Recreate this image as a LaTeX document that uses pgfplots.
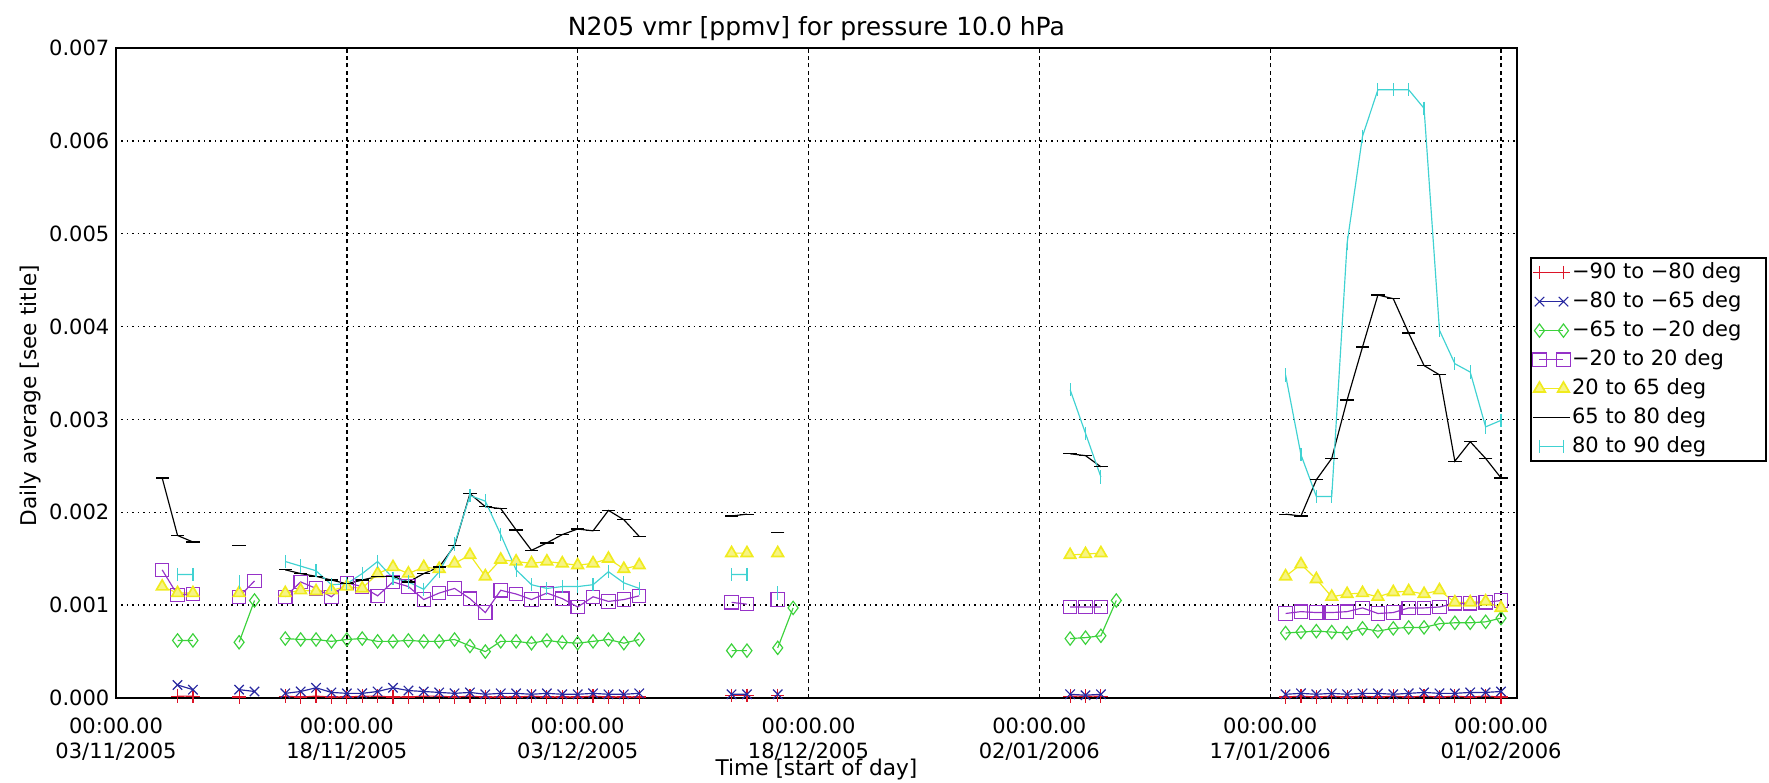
\documentclass[border=0pt]{standalone}
\usepackage{fontspec}
\setmainfont{DejaVu Sans}
\usepackage{pgfplots}
\pgfplotsset{compat=1.18}

\definecolor{cred}{RGB}{220,20,40}
\definecolor{cblue}{RGB}{40,40,160}
\definecolor{cgreen}{RGB}{60,210,60}
\definecolor{cpurple}{RGB}{150,50,200}
\definecolor{cyellow}{RGB}{240,235,30}
\definecolor{ccyan}{RGB}{64,210,210}

\newcommand{\fs}{\fontsize{6.3}{7.5}\selectfont}
\newcommand{\lb}[1]{\makebox[57pt][l]{#1}}

\begin{document}
\begin{tikzpicture}
\begin{axis}[
  at={(0,0)}, anchor=south west,
  scale only axis, width=420.3pt, height=195pt,
  xmin=0, xmax=91.04, ymin=0, ymax=0.007,
  unbounded coords=jump,
  xtick={0,15,30,45,60,75,90},
  xticklabels={{00:00.00\\03/11/2005},{00:00.00\\18/11/2005},{00:00.00\\03/12/2005},
    {00:00.00\\18/12/2005},{00:00.00\\02/01/2006},{00:00.00\\17/01/2006},{00:00.00\\01/02/2006}},
  xticklabel style={align=center, font=\fs, inner sep=0pt, yshift=-5.8pt},
  ytick={0,0.001,0.002,0.003,0.004,0.005,0.006,0.007},
  scaled y ticks=false,
  yticklabel style={/pgf/number format/.cd, fixed, fixed zerofill, precision=3,
    /tikz/.cd, font=\fs, inner sep=0pt, xshift=-1.8pt},
  /pgf/number format/assume math mode=true,
  grid=major,
  major x grid style={black, line width=0.4pt, dash pattern=on 1.2pt off 1pt},
  major y grid style={black, line width=0.4pt, dash pattern=on 0.45pt off 1.2pt},
  major tick length=0pt,
  axis line style={line width=0.6pt},
  title={N205 vmr [ppmv] for pressure 10.0 hPa},
  every axis title/.style={at={(0.5,1)}, anchor=center, yshift=5.7pt, font=\fontsize{7.5}{9}\selectfont},
  xlabel={Time [start of day]},
  xlabel style={at={(axis description cs:0.5,-0.1108)}, anchor=center, font=\fontsize{6.5}{7.5}\selectfont},
  ylabel={Daily average [see title]},
  ylabel style={at={(axis description cs:-0.0607,0.465)}, anchor=center, font=\fontsize{6.5}{7.5}\selectfont},
  every axis plot/.append style={line width=0.35pt, mark size=2pt},
  legend image code/.code={\draw[mark repeat=2,mark phase=1,#1] plot coordinates {(0pt,0pt) (3.6pt,0pt) (7.2pt,0pt)};},
  legend cell align=left,
  legend style={at={(1.1784,0.678)}, anchor=north east, draw=black, line width=0.5pt,
    inner sep=0.6pt, font=\fontsize{6.3}{7.5}\selectfont, row sep=1.2pt,
    nodes={inner sep=0.6pt, text height=4.8pt, text depth=1.5pt}},
]

% -90 to -80 deg
\addplot[cred, mark=+] coordinates {
 (4,0.02e-3) (5,0.02e-3) (6,nan) (8,0.01e-3) (10,nan)
 (11,0.02e-3) (12,0.01e-3) (13,0.02e-3) (14,0.01e-3) (15,0.01e-3) (16,0.02e-3) (17,0.02e-3) (18,0.01e-3)
 (19,0.01e-3) (20,0.02e-3) (21,0.02e-3) (22,0.01e-3) (23,0.02e-3) (24,0.01e-3) (25,0.01e-3) (26,0.01e-3)
 (27,0.02e-3) (28,0.01e-3) (29,0.01e-3) (30,0.01e-3) (31,0.02e-3) (32,0.01e-3) (33,0.01e-3) (34,0.01e-3)
 (35,nan) (40,0.03e-3) (41,0.03e-3) (42,nan) (43,0.03e-3) (44,nan)
 (62,0.02e-3) (63,0.02e-3) (64,0.02e-3) (65,nan)
 (76,0.01e-3) (77,0.02e-3) (78,0.01e-3) (79,0.02e-3) (80,0.01e-3) (81,0.02e-3) (82,0.01e-3) (83,0.02e-3)
 (84,0.01e-3) (85,0.02e-3) (86,0.01e-3) (87,0.02e-3) (88,0.01e-3) (89,0.02e-3) (90,0.01e-3)
};
\addlegendentry{\lb{−90 to −80 deg}}

% -80 to -65 deg
\addplot[cblue, mark=x] coordinates {
 (4,0.14e-3) (5,0.09e-3) (6,nan) (8,0.09e-3) (9,0.07e-3) (10,nan)
 (11,0.05e-3) (12,0.07e-3) (13,0.11e-3) (14,0.06e-3) (15,0.05e-3) (16,0.05e-3) (17,0.07e-3) (18,0.11e-3)
 (19,0.08e-3) (20,0.07e-3) (21,0.06e-3) (22,0.05e-3) (23,0.06e-3) (24,0.04e-3) (25,0.05e-3) (26,0.05e-3)
 (27,0.04e-3) (28,0.05e-3) (29,0.04e-3) (30,0.04e-3) (31,0.05e-3) (32,0.04e-3) (33,0.04e-3) (34,0.05e-3)
 (35,nan) (40,0.04e-3) (41,0.04e-3) (42,nan) (43,0.04e-3) (44,nan)
 (62,0.04e-3) (63,0.03e-3) (64,0.04e-3) (65,nan)
 (76,0.04e-3) (77,0.05e-3) (78,0.04e-3) (79,0.05e-3) (80,0.04e-3) (81,0.05e-3) (82,0.05e-3) (83,0.04e-3)
 (84,0.05e-3) (85,0.06e-3) (86,0.05e-3) (87,0.05e-3) (88,0.06e-3) (89,0.06e-3) (90,0.07e-3)
};
\addlegendentry{\lb{−80 to −65 deg}}

% -65 to -20 deg
\addplot[cgreen, mark=diamond] coordinates {
 (4,0.62e-3) (5,0.62e-3) (6,nan) (8,0.60e-3) (9,1.05e-3) (10,nan)
 (11,0.64e-3) (12,0.63e-3) (13,0.63e-3) (14,0.61e-3) (15,0.63e-3) (16,0.64e-3) (17,0.61e-3) (18,0.61e-3)
 (19,0.62e-3) (20,0.61e-3) (21,0.61e-3) (22,0.63e-3) (23,0.56e-3) (24,0.50e-3) (25,0.61e-3) (26,0.61e-3)
 (27,0.59e-3) (28,0.62e-3) (29,0.60e-3) (30,0.59e-3) (31,0.61e-3) (32,0.63e-3) (33,0.59e-3) (34,0.63e-3)
 (35,nan) (40,0.51e-3) (41,0.51e-3) (42,nan) (43,0.54e-3) (44,0.97e-3) (45,nan)
 (62,0.64e-3) (63,0.65e-3) (64,0.67e-3) (65,1.05e-3) (66,nan)
 (76,0.70e-3) (77,0.71e-3) (78,0.72e-3) (79,0.71e-3) (80,0.70e-3) (81,0.75e-3) (82,0.72e-3) (83,0.75e-3)
 (84,0.76e-3) (85,0.76e-3) (86,0.80e-3) (87,0.81e-3) (88,0.81e-3) (89,0.82e-3) (90,0.86e-3)
};
\addlegendentry{\lb{−65 to −20 deg}}

% -20 to 20 deg
\addplot[cpurple, mark=square] coordinates {
 (3,1.38e-3) (4,1.11e-3) (5,1.12e-3) (6,nan) (8,1.09e-3) (9,1.26e-3) (10,nan)
 (11,1.09e-3) (12,1.25e-3) (13,1.18e-3) (14,1.09e-3) (15,1.24e-3) (16,1.20e-3) (17,1.10e-3) (18,1.25e-3)
 (19,1.20e-3) (20,1.06e-3) (21,1.13e-3) (22,1.18e-3) (23,1.07e-3) (24,0.92e-3) (25,1.16e-3) (26,1.12e-3)
 (27,1.06e-3) (28,1.13e-3) (29,1.07e-3) (30,0.98e-3) (31,1.09e-3) (32,1.04e-3) (33,1.06e-3) (34,1.10e-3)
 (35,nan) (40,1.03e-3) (41,1.01e-3) (42,nan) (43,1.06e-3) (44,nan)
 (62,0.98e-3) (63,0.98e-3) (64,0.98e-3) (65,nan)
 (76,0.91e-3) (77,0.93e-3) (78,0.92e-3) (79,0.92e-3) (80,0.93e-3) (81,0.97e-3) (82,0.91e-3) (83,0.92e-3)
 (84,0.97e-3) (85,0.97e-3) (86,0.98e-3) (87,1.02e-3) (88,1.02e-3) (89,1.03e-3) (90,1.05e-3)
};
\addlegendentry{\lb{−20 to 20 deg}}

% 20 to 65 deg
\addplot[cyellow, mark=triangle*, mark options={fill=cyellow!55, line width=0.5pt}] coordinates {
 (3,1.20e-3) (4,1.13e-3) (5,1.13e-3) (6,nan) (8,1.13e-3) (10,nan)
 (11,1.13e-3) (12,1.16e-3) (13,1.15e-3) (14,1.16e-3) (15,1.20e-3) (16,1.18e-3) (17,1.34e-3) (18,1.41e-3)
 (19,1.34e-3) (20,1.41e-3) (21,1.39e-3) (22,1.45e-3) (23,1.54e-3) (24,1.31e-3) (25,1.49e-3) (26,1.47e-3)
 (27,1.45e-3) (28,1.47e-3) (29,1.45e-3) (30,1.43e-3) (31,1.45e-3) (32,1.50e-3) (33,1.39e-3) (34,1.43e-3)
 (35,nan) (40,1.56e-3) (41,1.56e-3) (42,nan) (43,1.56e-3) (44,nan)
 (62,1.54e-3) (63,1.55e-3) (64,1.56e-3) (65,nan)
 (76,1.31e-3) (77,1.44e-3) (78,1.28e-3) (79,1.09e-3) (80,1.12e-3) (81,1.13e-3) (82,1.09e-3) (83,1.14e-3)
 (84,1.15e-3) (85,1.12e-3) (86,1.16e-3) (87,1.03e-3) (88,1.03e-3) (89,1.04e-3) (90,0.97e-3)
};
\addlegendentry{\lb{20 to 65 deg}}

% 65 to 80 deg
\addplot[black, mark=-] coordinates {
 (3,2.37e-3) (4,1.75e-3) (5,1.68e-3) (6,nan) (8,1.64e-3) (9,nan)
 (11,1.38e-3) (12,1.34e-3) (13,1.31e-3) (14,1.27e-3) (15,1.23e-3) (16,1.27e-3) (17,1.31e-3) (18,1.31e-3)
 (19,1.25e-3) (20,1.34e-3) (21,1.41e-3) (22,1.64e-3) (23,2.20e-3) (24,2.06e-3) (25,2.04e-3) (26,1.81e-3)
 (27,1.59e-3) (28,1.67e-3) (29,1.76e-3) (30,1.82e-3) (31,1.80e-3) (32,2.02e-3) (33,1.92e-3) (34,1.74e-3)
 (35,nan) (40,1.96e-3) (41,1.98e-3) (42,nan) (43,1.78e-3) (44,nan)
 (62,2.63e-3) (63,2.61e-3) (64,2.49e-3) (65,nan)
 (76,1.98e-3) (77,1.96e-3) (78,2.35e-3) (79,2.58e-3) (80,3.21e-3) (81,3.78e-3) (82,4.34e-3) (83,4.30e-3)
 (84,3.93e-3) (85,3.58e-3) (86,3.48e-3) (87,2.55e-3) (88,2.76e-3) (89,2.58e-3) (90,2.37e-3)
};
\addlegendentry{\lb{65 to 80 deg}}

% 80 to 90 deg
\addplot[ccyan, mark=|] coordinates {
 (4,1.33e-3) (5,1.33e-3) (6,nan) (8,1.25e-3) (9,nan)
 (11,1.47e-3) (12,1.42e-3) (13,1.37e-3) (14,1.22e-3) (15,1.23e-3) (16,1.34e-3) (17,1.47e-3) (18,1.29e-3)
 (19,1.25e-3) (20,1.17e-3) (21,1.36e-3) (22,1.66e-3) (23,2.18e-3) (24,2.12e-3) (25,1.76e-3) (26,1.38e-3)
 (27,1.22e-3) (28,1.18e-3) (29,1.20e-3) (30,1.20e-3) (31,1.22e-3) (32,1.36e-3) (33,1.24e-3) (34,1.18e-3)
 (35,nan) (40,1.33e-3) (41,1.33e-3) (42,nan) (43,1.13e-3) (44,nan)
 (62,3.32e-3) (63,2.85e-3) (64,2.38e-3) (65,nan)
 (76,3.48e-3) (77,2.62e-3) (78,2.17e-3) (79,2.17e-3) (80,4.90e-3) (81,6.05e-3) (82,6.55e-3) (83,6.55e-3)
 (84,6.55e-3) (85,6.35e-3) (86,3.96e-3) (87,3.60e-3) (88,3.51e-3) (89,2.92e-3) (90,2.99e-3)
};
\addlegendentry{\lb{80 to 90 deg}}

\end{axis}
\pgfresetboundingbox
\useasboundingbox (-34.8pt,-25.5pt) rectangle (495.9pt,209.4pt);
\end{tikzpicture}
\end{document}
